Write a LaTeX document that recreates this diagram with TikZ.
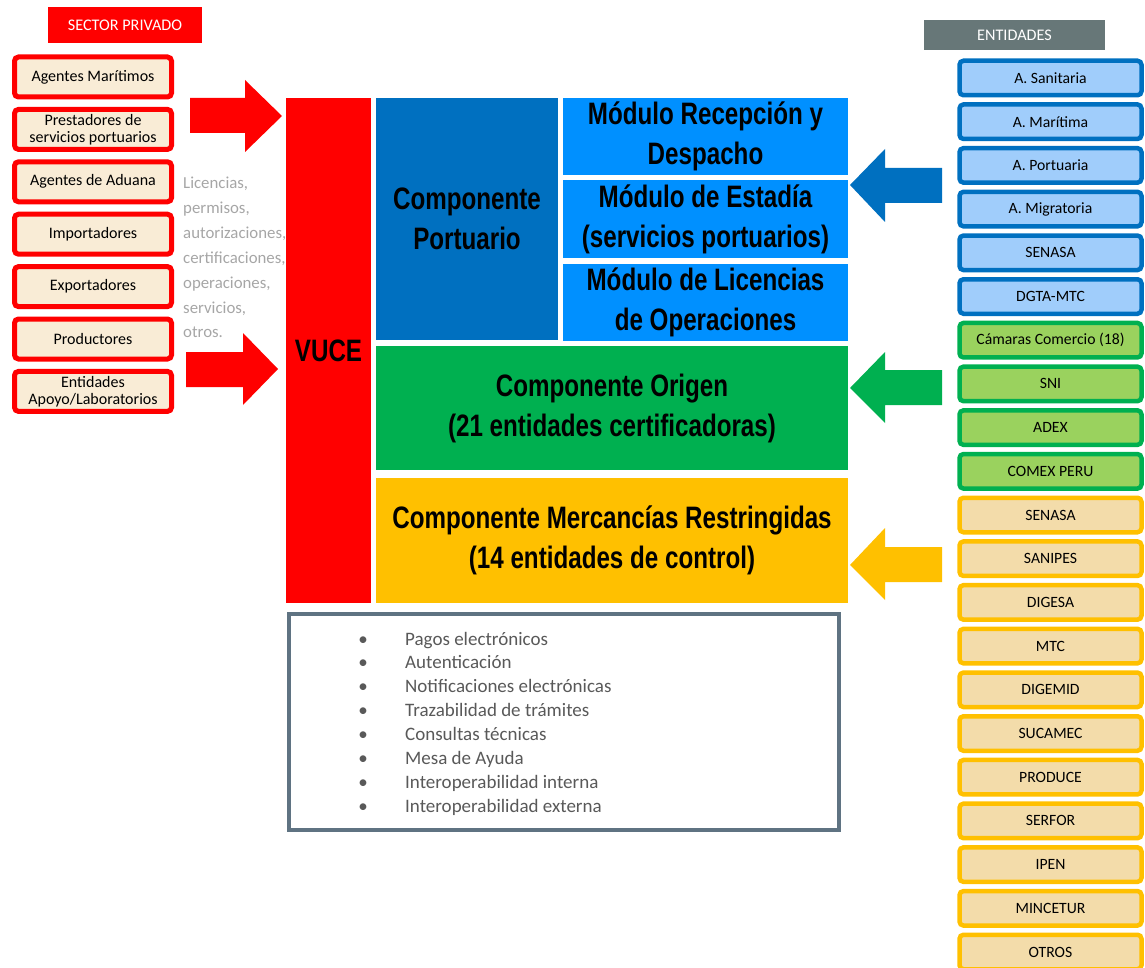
\documentclass[tikz,border=0pt]{standalone}
\usepackage{fontspec}
\setmainfont{Carlito}
\newfontfamily\ttlfont[FakeStretch=0.78]{Liberation Sans}
\usetikzlibrary{positioning}

\definecolor{vucered}{HTML}{FF0000}
\definecolor{privfill}{HTML}{F9ECD6}
\definecolor{portblue}{HTML}{0070C0}
\definecolor{modblue}{HTML}{0090FF}
\definecolor{origgreen}{HTML}{00B050}
\definecolor{restyellow}{HTML}{FFC000}
\definecolor{entgray}{HTML}{677778}
\definecolor{bluefill}{HTML}{A0CDFB}
\definecolor{greenfill}{HTML}{9AD25E}
\definecolor{yellowfill}{HTML}{F3DCAA}
\definecolor{slate}{HTML}{5F7382}
\definecolor{lighttext}{HTML}{A6A6A6}
\definecolor{darktext}{HTML}{595959}

\tikzset{
  header/.style={inner sep=0pt, text=white, font=\fontsize{16.2}{18}\selectfont},
  privbox/.style={draw=vucered, fill=privfill, line width=5pt, rounded corners=4pt,
    minimum width=157pt, minimum height=40pt, inner sep=0pt, align=center,
    font=\fontsize{16}{17}\selectfont},
  entbox/.style={draw=#1, line width=4.5pt, rounded corners=4pt,
    minimum width=182pt, minimum height=34.5pt, inner sep=0pt,
    font=\fontsize{15.7}{18}\selectfont},
  bigbox/.style={inner sep=0pt, align=center,
    font=\ttlfont\bfseries\fontsize{31}{40}\selectfont},
  graytext/.style={inner sep=0pt, text=lighttext, font=\fontsize{16.8}{18}\selectfont},
  servtext/.style={inner sep=0pt, text=darktext, font=\fontsize{19}{20}\selectfont}
}

\begin{document}
\begin{tikzpicture}[x=1pt,y=-1pt]
    \useasboundingbox (0,0) rectangle (1145,968);

    % Headers
    \node[header, fill=vucered, minimum width=154pt, minimum height=36pt] (sector) at (125,25) {SECTOR PRIVADO};
    \node[header, fill=entgray, minimum width=181pt, minimum height=30pt] (entidades) at (1014.5,35) {ENTIDADES};

    % Private sector actors
    \foreach \txt [count=\i from 0] in {Agentes Marítimos, Prestadores de\\servicios portuarios,
        Agentes de Aduana, Importadores, Exportadores, Productores, Entidades\\Apoyo/Laboratorios}
        \node[privbox] (p\i) at (93,{77+52.4*\i}) {\txt};

    % What they ask for
    \foreach \txt [count=\i from 0] in {{Licencias,}, {permisos,}, {autorizaciones,},
        {certificaciones,}, {operaciones,}, {servicios,}, {otros.}}
        \node[graytext, anchor=base west] (t\i) at (183,{189+24.8*\i}) {\txt};

    % Arrows into VUCE
    \fill[vucered] (190,98) -- (245,98) -- (245,80) -- (282,116) -- (245,152) -- (245,133) -- (190,133) -- cycle;
    \fill[vucered] (186,352) -- (243,352) -- (243,333) -- (278,369) -- (243,405) -- (243,387) -- (186,387) -- cycle;

    % VUCE and its components
    \node[bigbox, fill=vucered, minimum width=85pt, minimum height=505pt] (vuce) at (328.5,350.5) {VUCE};
    \node[bigbox, fill=portblue, minimum width=182pt, minimum height=242pt] (portuario) at (467,219) {Componente\\Portuario};
    \node[bigbox, fill=modblue, minimum width=285pt, minimum height=77pt] (recepcion) at (705.5,136.5) {Módulo Recepción y\\Despacho};
    \node[bigbox, fill=modblue, minimum width=285pt, minimum height=78pt, below=5pt of recepcion] (estadia) {Módulo de Estadía\\(servicios portuarios)};
    \node[bigbox, fill=modblue, minimum width=285pt, minimum height=77pt, below=5pt of estadia] (licencias) {Módulo de Licencias\\de Operaciones};
    \node[bigbox, fill=origgreen, minimum width=472pt, minimum height=124pt] (origen) at (612,408) {Componente Origen\\(21 entidades certificadoras)};
    \node[bigbox, fill=restyellow, minimum width=472pt, minimum height=125pt] (restringidas) at (612,540.5) {Componente Mercancías Restringidas\\(14 entidades de control)};

    % Common services
    \node[draw=slate, fill=white, line width=4pt, minimum width=550pt, minimum height=216pt] (servicios) at (564,722) {};
    \foreach \txt [count=\i from 0] in {Pagos electrónicos, Autenticación, Notificaciones electrónicas,
        Trazabilidad de trámites, Consultas técnicas, Mesa de Ayuda,
        Interoperabilidad interna, Interoperabilidad externa}
    {
        \node[servtext, anchor=base] (d\i) at (363,{645+23.9*\i}) {\textbullet};
        \node[servtext, anchor=base west] (s\i) at (405,{645+23.9*\i}) {\txt};
    }

    % Arrows from the entities
    \fill[portblue] (942,168) -- (885,168) -- (885,149) -- (850,185) -- (885,222) -- (885,203) -- (942,203) -- cycle;
    \fill[origgreen] (942,370) -- (885,370) -- (885,352) -- (850,388) -- (885,423) -- (885,405) -- (942,405) -- cycle;
    \fill[restyellow] (942,547) -- (885,547) -- (885,528) -- (850,565) -- (885,600) -- (885,582) -- (942,582) -- cycle;

    % Entities
    \foreach \txt [count=\i from 0] in {A. Sanitaria, A. Marítima, A. Portuaria, A. Migratoria, SENASA, DGTA-MTC}
        \node[entbox=portblue, fill=bluefill] (e\i) at (1050.5,{78+43.7*\i}) {\txt};
    \foreach \txt [count=\i from 6] in {Cámaras Comercio (18), SNI, ADEX, COMEX PERU}
        \node[entbox=origgreen, fill=greenfill] (e\i) at (1050.5,{78+43.7*\i}) {\txt};
    \foreach \txt [count=\i from 10] in {SENASA, SANIPES, DIGESA, MTC, DIGEMID, SUCAMEC,
        PRODUCE, SERFOR, IPEN, MINCETUR, OTROS}
        \node[entbox=restyellow, fill=yellowfill] (e\i) at (1050.5,{78+43.7*\i}) {\txt};
\end{tikzpicture}
\end{document}
